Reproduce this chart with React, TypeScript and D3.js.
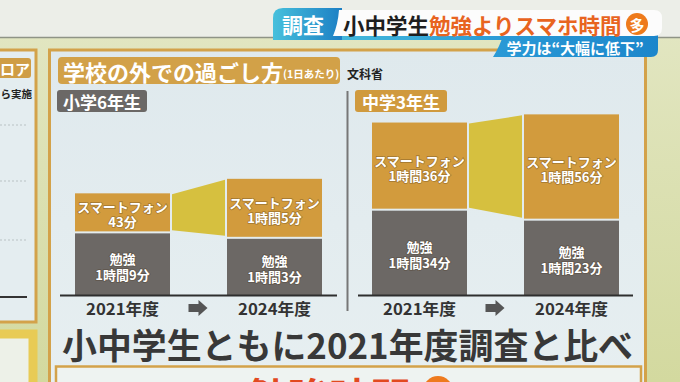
import React from 'react';
import * as d3 from 'd3';

// ---- data ----
const years = ['2021年度', '2024年度'];
const grades = ['小学6年生', '中学3年生'];
const studyMinutesG6 = [69, 63];
const phoneMinutesG6 = [43, 65];
const studyMinutesJ3 = [94, 83];
const phoneMinutesJ3 = [96, 116];
const phoneLabel = 'スマートフォン';
const studyLabel = '勉強';
const chartTitle = '学校の外での過ごし方';
const chartTitleNote = '(1日あたり)';
const sourceLabel = '文科省';
const headlineBlack = '小中学生';
const headlineOrange = '勉強よりスマホ時間';
const headlineMark = '多';
const tagLabel = '調査';
const subHeadline = '学力は“大幅に低下”';
const caption = '小中学生ともに2021年度調査と比べ';
const nextCaption = '勉強時間';

const W = 680;
const H = 382;
const FONT = "'Noto Sans CJK JP', 'Noto Sans', sans-serif";

const PHONE = '#d29b3d';
const STUDY = '#6c6865';
const LINK = '#d6c03f';
const GOLD = '#d3a24a';

const fmt = (m: number) => (m < 60 ? `${m}分` : `${Math.floor(m / 60)}時間${m % 60}分`);

const yScale = d3.scaleLinear().domain([0, 130]).range([295, 177]);

type PanelProps = {
  grade: string;
  study: number[];
  phone: number[];
  bandRange: [number, number];
  axisRange: [number, number];
  labelBox: [number, number];
  labelColor: string;
};

function TwoLine({ x, cy, gap, a, b }: { x: number; cy: number; gap: number; a: string; b: string }) {
  return (
    <text
      x={x}
      y={cy - gap / 2}
      textAnchor="middle"
      dominantBaseline="central"
      style={{
        fill: '#fff',
        stroke: 'rgba(70,50,20,0.35)',
        strokeWidth: 1.6,
        paintOrder: 'stroke',
        fontFamily: FONT,
        fontWeight: 700,
        fontSize: 13,
      }}
    >
      <tspan x={x}>{a}</tspan>
      <tspan x={x} dy={gap}>{b}</tspan>
    </text>
  );
}

function Panel({ grade, study, phone, bandRange, axisRange, labelBox, labelColor }: PanelProps) {
  const xb = d3.scaleBand<string>().domain(years).range(bandRange).paddingInner(0.375).paddingOuter(0);
  const bw = xb.bandwidth();
  const totals = study.map((s, i) => s + phone[i]);
  const x0 = (xb(years[0]) as number) + bw + 2;
  const x1 = (xb(years[1]) as number) - 2;
  const linkPts = [
    [x0, yScale(totals[0]) + 1],
    [x1, yScale(totals[1]) + 1],
    [x1, yScale(study[1]) - 2],
    [x0, yScale(study[0]) - 2],
  ];
  const mid = (x0 + x1) / 2;
  return (
    <g>
      <rect x={labelBox[0]} y={90} width={labelBox[1] - labelBox[0]} height={22} rx={3} fill={labelColor} />
      <text x={(labelBox[0] + labelBox[1]) / 2} y={101.5} textAnchor="middle" dominantBaseline="central"
        fontSize={17} fontWeight={700} fill="#fff" fontFamily={FONT}>{grade}</text>
      <polygon points={linkPts.map((p) => p.join(',')).join(' ')} fill={LINK} />
      {years.map((yr, i) => {
        const x = xb(yr) as number;
        const ys = yScale(study[i]);
        const yt = yScale(totals[i]);
        const y0 = yScale(0);
        const cP = (yt + ys) / 2 + 1;
        const cS = (ys + y0) / 2 + 2;
        const cx = x + bw / 2;
        return (
          <g key={yr}>
            <rect x={x} y={yt} width={bw} height={ys - yt - 1} fill={PHONE} />
            <rect x={x} y={ys + 1} width={bw} height={y0 - ys - 1} fill={STUDY} />
            <TwoLine x={cx} cy={cP} gap={15} a={phoneLabel} b={fmt(phone[i])} />
            <TwoLine x={cx} cy={cS} gap={16} a={studyLabel} b={fmt(study[i])} />
            <text x={cx} y={308} textAnchor="middle" dominantBaseline="central" fontSize={16} fontWeight={700}
              fill="#333" fontFamily={FONT} textLength={73} lengthAdjust="spacingAndGlyphs">{yr}</text>
          </g>
        );
      })}
      <line x1={axisRange[0]} x2={axisRange[1]} y1={295.5} y2={295.5} stroke="#2e2e2e" strokeWidth={2.2} />
      <path d={`M${mid - 10},${304} h10 v-4 l9,8 l-9,8 v-4 h-10 z`} fill="#555" />
    </g>
  );
}

export default function App() {
  return (
    <div style={{ position: 'fixed', left: 0, top: 0 }}>
      <svg width={W} height={H} viewBox={`0 0 ${W} ${H}`} style={{ display: 'block' }}>
        <defs>
          <linearGradient id="bgGreen" x1="0" y1="0" x2="0" y2="1">
            <stop offset="0" stopColor="#e3e7c4" />
            <stop offset="1" stopColor="#d3d99f" />
          </linearGradient>
          <linearGradient id="panelBg" x1="0" y1="0" x2="0" y2="1">
            <stop offset="0" stopColor="#dfe9ed" />
            <stop offset="1" stopColor="#e7eff1" />
          </linearGradient>
          <linearGradient id="tagGrad" x1="0" y1="0" x2="1" y2="0">
            <stop offset="0" stopColor="#47c0dc" />
            <stop offset="1" stopColor="#1c7fc4" />
          </linearGradient>
          <linearGradient id="subGrad" x1="0" y1="0" x2="1" y2="0">
            <stop offset="0" stopColor="#2a9ad6" />
            <stop offset="1" stopColor="#1b86cb" />
          </linearGradient>
          <linearGradient id="bandGrad" x1="0" y1="0" x2="1" y2="0">
            <stop offset="0" stopColor="#4ec3dc" />
            <stop offset="1" stopColor="#2a9ad6" />
          </linearGradient>
        </defs>

        {/* backgrounds */}
        <rect x={0} y={0} width={W} height={H} fill="url(#bgGreen)" />
        <rect x={0} y={0} width={W} height={37} fill="#eceee8" />
        <line x1={0} x2={W} y1={37.5} y2={37.5} stroke="#8f9486" strokeWidth={1.5} />

        {/* left partial panel */}
        <rect x={-5} y={50} width={41} height={272} fill="#e4edf0" stroke={GOLD} strokeWidth={3} />
        <rect x={-5} y={58} width={36} height={20} rx={3} fill="#cf9d45" />
        <text x={30} y={68} textAnchor="end" dominantBaseline="central" fontSize={15} fontWeight={700}
          fill="#fff" fontFamily={FONT}>ロア</text>
        <text x={32} y={93} textAnchor="end" dominantBaseline="central" fontSize={10.5} fontWeight={700}
          fill="#222" fontFamily={FONT}>ら実施</text>
        {[125, 181, 240].map((yy) => (
          <line key={yy} x1={0} x2={28} y1={yy} y2={yy} stroke="#b9c2c4" strokeDasharray="2 2" />
        ))}
        <line x1={0} x2={27} y1={297} y2={297} stroke="#333" strokeWidth={2} />
        <rect x={-10} y={334} width={43} height={60} fill="#edf1e8" stroke="#e8cb55" strokeWidth={9} />

        {/* main panel */}
        <rect x={49.5} y={50} width={596} height={345} fill="url(#panelBg)" stroke={GOLD} strokeWidth={3} />
        <rect x={58} y={57} width={282} height={27} rx={4} fill="#d2a148" />
        <text x={63} y={71} dominantBaseline="central" fontFamily={FONT} fontWeight={700} fill="#fff">
          <tspan fontSize={22}>{chartTitle}</tspan>
          <tspan fontSize={10.5} dy={2}>{chartTitleNote}</tspan>
        </text>
        <text x={347} y={73} dominantBaseline="central" fontSize={12} fontWeight={700} fill="#222"
          fontFamily={FONT}>{sourceLabel}</text>
        <line x1={347.5} x2={347.5} y1={91} y2={311} stroke="#777" strokeWidth={2} />

        <Panel grade={grades[0]} study={studyMinutesG6} phone={phoneMinutesG6} bandRange={[75, 322]}
          axisRange={[60, 337]} labelBox={[57, 147]} labelColor="#6b6866" />
        <Panel grade={grades[1]} study={studyMinutesJ3} phone={phoneMinutesJ3} bandRange={[372, 619]}
          axisRange={[358, 633]} labelBox={[355, 447]} labelColor="#d09a3e" />

        <text x={62} y={343} dominantBaseline="central" fontSize={35} fontWeight={700} fill="#383838"
          fontFamily={FONT} textLength={571} lengthAdjust="spacingAndGlyphs">{caption}</text>

        {/* lower box */}
        <rect x={56} y={366.5} width={585} height={40} fill="#eef3f1" stroke={GOLD} strokeWidth={2.5} />
        <text x={247} y={413} fontSize={41} fontWeight={700} fill="#e2491f" fontFamily={FONT}>{nextCaption}</text>
        <circle cx={438} cy={391} r={15} fill="#ee7a1e" />

        {/* headline banner */}
        <path d="M273,30 H500 L505,40 H273 Z" fill="url(#bandGrad)" />
        <path d="M503,35 H658 V50 Q658,57 651,57 H493 Q500,46 503,35 Z" fill="url(#subGrad)" />
        <path d="M283,8 H342 V40 H273 V18 Q273,8 283,8 Z" fill="url(#tagGrad)" />
        <path d="M339,10 H654 Q662,10 662,18 V28 Q662,36 654,36 H333 Q338,24 339,10 Z" fill="#fcfcfc" />
        <text x={303} y={24} textAnchor="middle" dominantBaseline="central" fontSize={21} fontWeight={700}
          fill="#fff" fontFamily={FONT}>{tagLabel}</text>
        <text x={343} y={24} dominantBaseline="central" fontSize={21.5} fontWeight={700} fontFamily={FONT}>
          <tspan fill="#1e1e1e">{headlineBlack}</tspan>
          <tspan fill="#e8641f">{headlineOrange}</tspan>
        </text>
        <circle cx={637} cy={24} r={11} fill="#ee7a1c" />
        <text x={637} y={24} textAnchor="middle" dominantBaseline="central" fontSize={15} fontWeight={700}
          fill="#fff" fontFamily={FONT}>{headlineMark}</text>
        <text x={575} y={47} textAnchor="middle" dominantBaseline="central" fontSize={15} fontWeight={700}
          fill="#fff" fontFamily={FONT}>{subHeadline}</text>
      </svg>
    </div>
  );
}
